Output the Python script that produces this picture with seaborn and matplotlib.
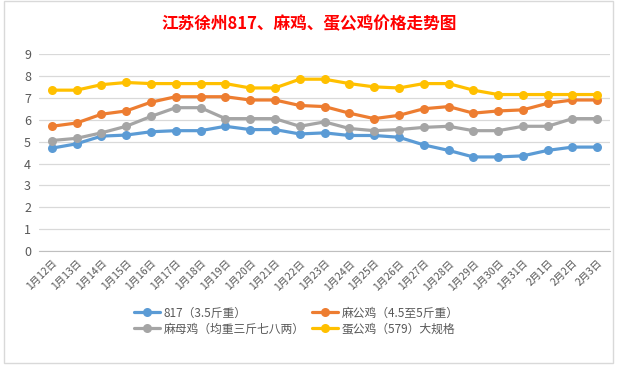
import matplotlib
matplotlib.use("Agg")
import matplotlib.pyplot as plt
import seaborn as sns
import pandas as pd
from matplotlib.patches import Rectangle

dates = ["1月12日", "1月13日", "1月14日", "1月15日", "1月16日", "1月17日", "1月18日",
         "1月19日", "1月20日", "1月21日", "1月22日", "1月23日", "1月24日", "1月25日",
         "1月26日", "1月27日", "1月28日", "1月29日", "1月30日", "1月31日", "2月1日",
         "2月2日", "2月3日"]
s817 = [4.7, 4.9, 5.25, 5.3, 5.45, 5.5, 5.5, 5.7, 5.55, 5.55, 5.35, 5.4,
        5.28, 5.28, 5.2, 4.85, 4.6, 4.3, 4.3, 4.35, 4.6, 4.75, 4.75]
ma_gong = [5.7, 5.85, 6.25, 6.4, 6.8, 7.05, 7.05, 7.05, 6.9, 6.9, 6.65, 6.6,
           6.3, 6.05, 6.2, 6.5, 6.6, 6.3, 6.4, 6.45, 6.75, 6.9, 6.9]
ma_mu = [5.05, 5.15, 5.4, 5.7, 6.15, 6.55, 6.55, 6.05, 6.05, 6.05, 5.7, 5.9,
         5.6, 5.5, 5.55, 5.65, 5.7, 5.5, 5.5, 5.7, 5.7, 6.05, 6.05]
dan_gong = [7.35, 7.35, 7.6, 7.7, 7.65, 7.65, 7.65, 7.65, 7.45, 7.45, 7.85, 7.85,
            7.65, 7.5, 7.45, 7.65, 7.65, 7.35, 7.15, 7.15, 7.15, 7.15, 7.15]
names = ["817（3.5斤重）", "麻公鸡（4.5至5斤重）", "麻母鸡（均重三斤七八两）", "蛋公鸡（579）大规格"]
colors = ["#5B9BD5", "#ED7D31", "#A5A5A5", "#FFC000"]

df = pd.DataFrame({"date": dates, names[0]: s817, names[1]: ma_gong,
                   names[2]: ma_mu, names[3]: dan_gong})
long = df.melt(id_vars="date", var_name="series", value_name="price")
long["x"] = long["date"].map({d: i for i, d in enumerate(dates)})

sns.set_style("white")
plt.rcParams["font.family"] = ["Noto Sans CJK SC", "DejaVu Sans"]

fig = plt.figure(figsize=(6.25, 3.65), dpi=100)
ax = fig.add_axes([0.063, 0.312, 0.9125, 0.54])

sns.lineplot(data=long, x="x", y="price", hue="series", hue_order=names,
             palette=colors, marker="o", markersize=6.5, markeredgewidth=0,
             linewidth=2.3, ax=ax, legend=True)

ax.set_xlim(-0.5, len(dates) - 0.5)
ax.set_ylim(0, 9)
ax.set_yticks(range(0, 10))
ax.set_xticks(range(len(dates)))
ax.set_xticklabels(dates, rotation=45, ha="right", rotation_mode="anchor",
                   fontsize=7.5, color="#595959")
ax.set_xticks([i - 0.5 for i in range(len(dates) + 1)], minor=True)
ax.tick_params(axis="x", which="major", length=0, pad=5)
ax.tick_params(axis="x", which="minor", length=4, color="#BFBFBF", width=0.8)
ax.tick_params(axis="y", length=0, labelsize=9, labelcolor="#595959", pad=6)
ax.grid(axis="y", color="#D9D9D9", linewidth=0.9)
ax.set_xlabel("")
ax.set_ylabel("")
for side in ["top", "right", "left"]:
    ax.spines[side].set_visible(False)
ax.spines["bottom"].set_color("#BFBFBF")

# legend is filled column-wise, so reorder to get rows like the reference
handles, labels = ax.get_legend_handles_labels()
ax.get_legend().remove()
order = [0, 2, 1, 3]
fig.legend([handles[i] for i in order], [labels[i] for i in order], ncol=2,
           frameon=False, loc="upper left", bbox_to_anchor=(0.215, 0.16),
           fontsize=8.5, labelcolor="#595959", handlelength=2.2,
           columnspacing=0.6, handletextpad=0.3, labelspacing=0.25,
           borderaxespad=0, borderpad=0)

fig.text(0.495, 0.935, "江苏徐州817、麻鸡、蛋公鸡价格走势图", ha="center", va="center",
         fontsize=12, fontweight="bold", color="#FF0000")

fig.patches.append(Rectangle((0.006, 0.006), 0.975, 0.99, transform=fig.transFigure,
                             fill=False, edgecolor="#D9D9D9", linewidth=1))

fig.savefig("out.png", dpi=100)
